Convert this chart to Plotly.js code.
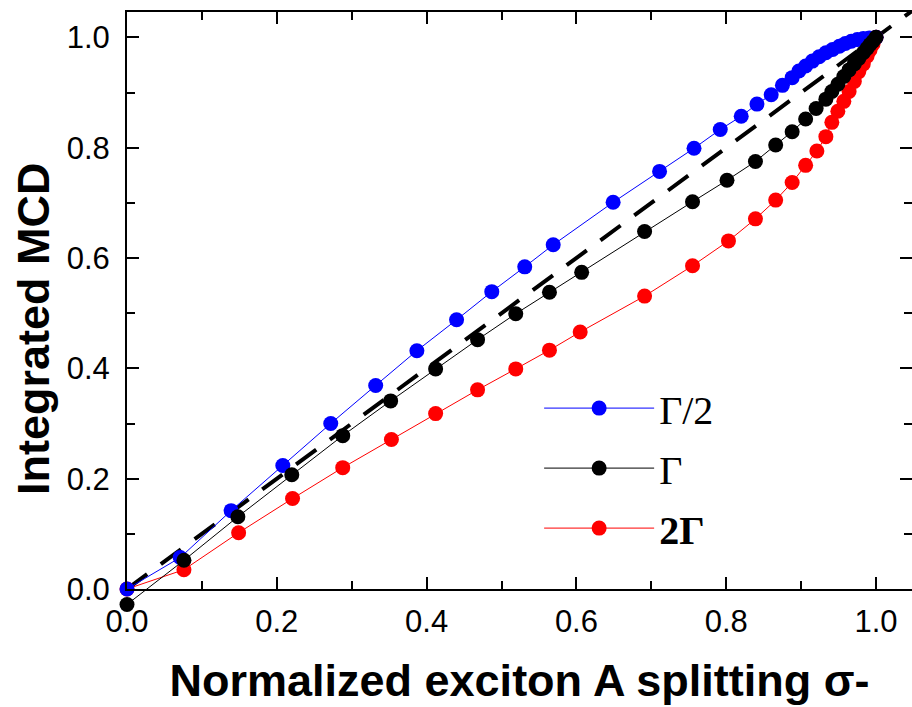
<!DOCTYPE html>
<html>
<head>
<meta charset="utf-8">
<script src="https://cdn.plot.ly/plotly-3.0.1.min.js"></script>
<style>html,body{margin:0;padding:0;background:#fff;}#chart{width:912px;height:707px;}</style>
</head>
<body>
<div id="chart"></div>
<script>
// Γ/2 series
const halfX = [0, 0.071, 0.139, 0.208, 0.272, 0.332, 0.387, 0.440, 0.487, 0.531, 0.569, 0.649, 0.711, 0.757, 0.792, 0.820, 0.841, 0.860, 0.875, 0.888, 0.897, 0.906, 0.915, 0.924, 0.933, 0.942, 0.951, 0.959, 0.967, 0.975, 0.983, 0.991, 1.0];
const halfY = [0, 0.057, 0.142, 0.224, 0.300, 0.369, 0.432, 0.488, 0.539, 0.584, 0.624, 0.701, 0.757, 0.799, 0.833, 0.857, 0.879, 0.896, 0.913, 0.927, 0.939, 0.948, 0.957, 0.965, 0.972, 0.978, 0.984, 0.989, 0.993, 0.996, 0.998, 0.999, 1.0];
// Γ series
const oneX = [0, 0.076, 0.148, 0.220, 0.288, 0.352, 0.412, 0.468, 0.519, 0.564, 0.607, 0.691, 0.755, 0.801, 0.839, 0.866, 0.888, 0.906, 0.920, 0.933, 0.941, 0.949, 0.957, 0.964, 0.971, 0.977, 0.983, 0.988, 0.992, 0.996, 1.0];
const oneY = [-0.028, 0.052, 0.131, 0.207, 0.278, 0.341, 0.399, 0.452, 0.499, 0.538, 0.574, 0.648, 0.702, 0.741, 0.775, 0.805, 0.829, 0.852, 0.871, 0.888, 0.902, 0.915, 0.929, 0.941, 0.952, 0.962, 0.972, 0.980, 0.987, 0.993, 1.0];
// 2Γ series
const twoX = [0, 0.076, 0.149, 0.221, 0.288, 0.353, 0.412, 0.468, 0.519, 0.564, 0.605, 0.691, 0.755, 0.803, 0.839, 0.866, 0.888, 0.906, 0.921, 0.933, 0.941, 0.949, 0.957, 0.964, 0.971, 0.977, 0.983, 0.988, 0.992, 0.996, 1.0];
const twoY = [0, 0.035, 0.102, 0.164, 0.220, 0.271, 0.318, 0.361, 0.399, 0.433, 0.466, 0.531, 0.586, 0.631, 0.671, 0.705, 0.737, 0.768, 0.794, 0.820, 0.846, 0.866, 0.884, 0.902, 0.920, 0.938, 0.952, 0.966, 0.977, 0.988, 1.0];
// reference diagonal y = x
const diagX = [0, 1.06];
const diagY = [0, 1.06];

const names = ['Γ/2', 'Γ', '<b>2Γ</b>'];
const tickVals = [0, 0.2, 0.4, 0.6, 0.8, 1.0];
const tickText = ['0.0', '0.2', '0.4', '0.6', '0.8', '1.0'];

const Y_MIN = 0, Y_MAX = 1.046;
// full (extended) area runs 20 px below y = 0 so the Γ point below zero stays visible
const H_MAIN = 577, H_FULL = 597;
const y2Min = Y_MAX - (Y_MAX - Y_MIN) * H_FULL / H_MAIN;

function series(x, y, name, color, rank, yax) {
  return {
    x: x, y: y, name: name, type: 'scatter', mode: 'lines+markers',
    xaxis: 'x', yaxis: yax,
    line: {color: color, width: 1},
    marker: {color: color, size: 15, line: {width: 0}},
    cliponaxis: false, legendrank: rank, legendgroup: 'g' + rank
  };
}

const traces = [
  {x: diagX, y: diagY, type: 'scatter', mode: 'lines', showlegend: false,
   line: {color: '#000', width: 4, dash: '25px,17px'}},
  series(twoX, twoY, names[2], '#ff0000', 3, 'y'),
  series(halfX, halfY, names[0], '#0000ff', 1, 'y'),
  series(oneX, oneY, names[1], '#000000', 2, 'y2')
];

const tickFont = {family: 'Liberation Sans, Arial, sans-serif', size: 31, color: '#000'};
const axisCommon = {
  showline: true, linewidth: 2, linecolor: '#000', mirror: 'ticks',
  ticks: 'inside', ticklen: 12, tickwidth: 2, tickcolor: '#000',
  showgrid: false, zeroline: false,
  tickvals: tickVals, ticktext: tickText,
  minor: {dtick: 0.1, tick0: 0, ticks: 'inside', ticklen: 8, tickwidth: 2, tickcolor: '#000', showgrid: false},
  tickfont: tickFont
};

const layout = {
  width: 912, height: 707,
  margin: {l: 127, r: 0, t: 12, b: 98},
  paper_bgcolor: '#fff', plot_bgcolor: 'rgba(0,0,0,0)',
  showlegend: true,
  legend: {
    x: 0.525, y: 0.236, xanchor: 'left', yanchor: 'middle',
    bgcolor: 'rgba(0,0,0,0)', itemwidth: 110, tracegroupgap: 5,
    font: {family: 'Liberation Serif, Times New Roman, serif', size: 40, color: '#000'}
  },
  xaxis: Object.assign({}, axisCommon, {
    range: [0, 1.048], anchor: 'y', ticklabelstandoff: 4,
    title: {text: '<b>Normalized exciton A splitting σ-</b>', standoff: 26,
            font: {family: 'Liberation Sans, Arial, sans-serif', size: 45, color: '#000'}}
  }),
  yaxis: Object.assign({}, axisCommon, {
    range: [Y_MIN, Y_MAX], domain: [(H_FULL - H_MAIN) / H_FULL, 1], anchor: 'x',
    ticklabelstandoff: 9,
    title: {text: ''}
  }),
  yaxis2: {
    range: [y2Min, Y_MAX], domain: [0, 1], anchor: 'x', visible: false,
    showgrid: false, zeroline: false
  },
  annotations: [{
    text: '<b>Integrated MCD</b>', xref: 'paper', yref: 'paper',
    x: -0.1197, y: 0.469, xanchor: 'center', yanchor: 'middle',
    textangle: -90, showarrow: false,
    font: {family: 'Liberation Sans, Arial, sans-serif', size: 45, color: '#000'}
  }]
};

Plotly.newPlot('chart', traces, layout, {displayModeBar: false, staticPlot: true});
</script>
</body>
</html>
